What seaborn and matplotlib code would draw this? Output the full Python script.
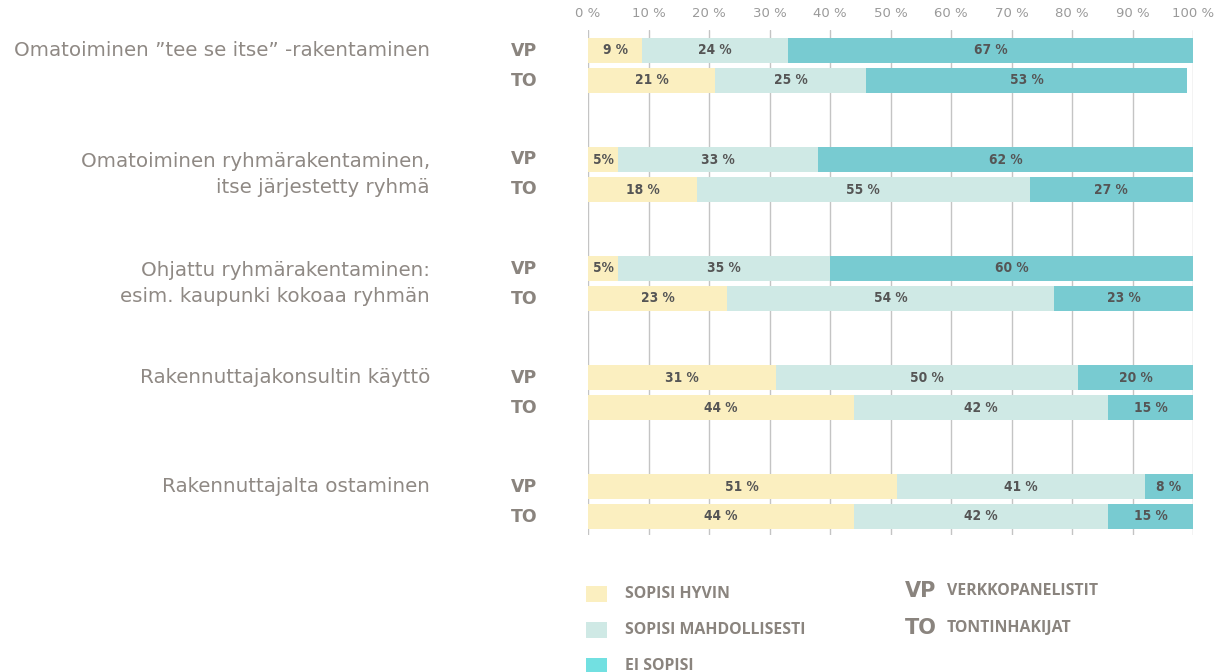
import matplotlib
matplotlib.use("Agg")
import matplotlib.pyplot as plt
import seaborn as sns
import pandas as pd
from matplotlib.patches import Rectangle
from matplotlib import font_manager

# --- data -------------------------------------------------------------
categories = [
    "Omatoiminen ”tee se itse” -rakentaminen",
    "Omatoiminen ryhmärakentaminen,\nitse järjestetty ryhmä",
    "Ohjattu ryhmärakentaminen:\nesim. kaupunki kokoaa ryhmän",
    "Rakennuttajakonsultin käyttö",
    "Rakennuttajalta ostaminen",
]
groups = ["VP", "TO"]
group_names = ["VERKKOPANELISTIT", "TONTINHAKIJAT"]
segments = ["SOPISI HYVIN", "SOPISI MAHDOLLISESTI", "EI SOPISI"]

# percentages per category: [VP, TO]
sopisi_hyvin = [[9, 21], [5, 18], [5, 23], [31, 44], [51, 44]]
sopisi_mahd = [[24, 25], [33, 55], [35, 54], [50, 42], [41, 42]]
ei_sopisi = [[67, 53], [62, 27], [60, 23], [20, 15], [8, 15]]
ticks = list(range(0, 101, 10))

# --- style ------------------------------------------------------------
seg_colors = ["#fbefc0", "#cfe9e5", "#78cbd1"]
legend_colors = ["#fbefc0", "#cfe9e5", "#72e0e1"]
label_gray = "#8a847e"
text_gray = "#8f8984"
value_gray = "#555555"
grid_gray = "#c4c4c4"

sns.set_theme(style="white")
plt.rcParams["font.family"] = ["Open Sans", "DejaVu Sans"]

installed = {f.name for f in font_manager.fontManager.ttflist}
value_family = "DejaVu Sans Condensed" if "DejaVu Sans Condensed" in installed else "DejaVu Sans"

W, H = 1226, 672
fig = plt.figure(figsize=(W / 100, H / 100), dpi=100)

def fx(px):
    return px / W

def fy(py):
    return 1 - py / H

ax = fig.add_axes([fx(588), fy(535), fx(1193) - fx(588), fy(30) - fy(535)])

GROUP_STEP = 109 / 30  # row pitch inside a group is 1 unit

rows = []
for g, cat in enumerate(categories):
    for s, grp in enumerate(groups):
        vals = [sopisi_hyvin[g][s], sopisi_mahd[g][s], ei_sopisi[g][s]]
        cum = 0
        for k, v in enumerate(vals):
            rows.append(dict(cat=g, grp=grp, seg=k, pos=g * GROUP_STEP + s,
                             value=v, left=cum, right=cum + v))
            cum += v
df = pd.DataFrame(rows)

# stacked bars: overlay cumulative totals, longest first
for k in reversed(range(len(segments))):
    sub = df[df["seg"] == k]
    sns.barplot(data=sub, x="right", y="pos", orient="y", native_scale=True,
                color=seg_colors[k], saturation=1, width=25 / 30,
                linewidth=0, ax=ax, errorbar=None)

# value labels
for _, r in df.iterrows():
    xc = (r["left"] + min(r["right"], 100)) / 2
    txt = f"{r['value']} %" if r["value"] >= 8 else f"{r['value']}%"
    ax.text(xc, r["pos"], txt, ha="center", va="center", fontsize=9.8,
            fontweight="bold", color=value_gray, family=value_family,
            fontstretch="condensed")

ax.set_xlim(0, 100)
ax.set_ylim((535 - 50.5) / 30, (30 - 50.5) / 30)
ax.xaxis.tick_top()
ax.set_xticks(ticks)
ax.set_xticklabels([f"{t} %" for t in ticks], color="#9a9a9a", fontsize=9.5,
                   family="DejaVu Sans")
ax.tick_params(axis="x", length=0, pad=7)
ax.set_yticks([])
ax.set_xlabel("")
ax.set_ylabel("")
ax.grid(axis="x", color=grid_gray, linewidth=1)
ax.grid(axis="y", visible=False)
ax.set_axisbelow(True)
for sp in ax.spines.values():
    sp.set_visible(False)

# category labels and VP / TO row labels
for g, cat in enumerate(categories):
    y0 = g * GROUP_STEP
    yc = y0 + 0.5 if "\n" in cat else y0
    ax.text(-158 / 6.05, yc, cat, ha="right", va="center", fontsize=14.3,
            color=text_gray, linespacing=1.5, family="DejaVu Sans",
            fontweight="normal")
    for s, grp in enumerate(groups):
        ax.text(-8.4, y0 + s, grp, ha="right", va="center", fontsize=12.5,
                fontweight="bold", color=label_gray, family="DejaVu Sans")

# legend
for k, name in enumerate(segments):
    top = 586 + 36 * k
    fig.patches.append(Rectangle((fx(586), fy(top + 16)), fx(21), 16 / H,
                                 transform=fig.transFigure,
                                 color=legend_colors[k], linewidth=0))
    fig.text(fx(625), fy(top + 8), name, ha="left", va="center",
             fontsize=11.4, fontweight="bold", color=label_gray)
for s, (grp, name) in enumerate(zip(groups, group_names)):
    yy = 591 + 37 * s
    fig.text(fx(905), fy(yy), grp, ha="left", va="center", fontsize=15,
             fontweight="bold", color=label_gray, family="DejaVu Sans")
    fig.text(fx(947), fy(yy), name, ha="left", va="center", fontsize=11.4,
             fontweight="bold", color=label_gray)

fig.savefig("out.png", dpi=100, facecolor="white")
